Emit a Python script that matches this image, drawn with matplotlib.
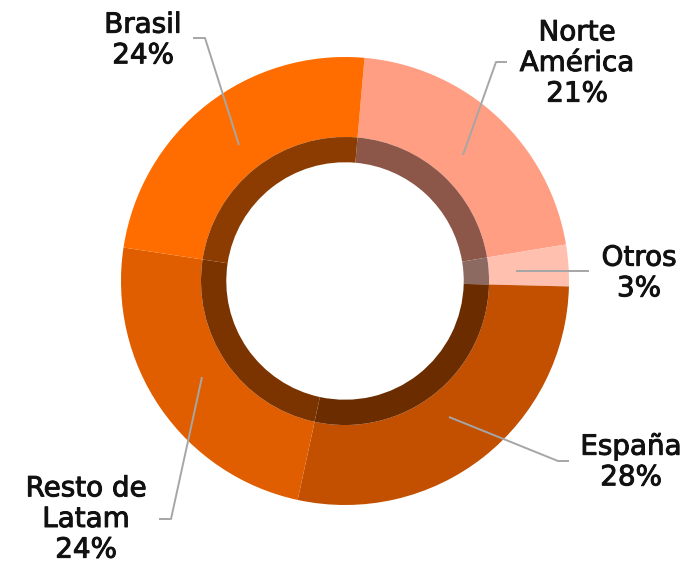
import numpy as np
import matplotlib
matplotlib.use("Agg")
import matplotlib.pyplot as plt
import matplotlib.patheffects as pe
from matplotlib.colors import to_rgb

# Share by region (clockwise from the top)
regions = ["Norte\nAmérica", "Otros", "España", "Resto de\nLatam", "Brasil"]
shares = [21, 3, 28, 24, 24]
colors = ["#FF9E82", "#FFC0B0", "#C25000", "#E05E00", "#FF6D00"]

# label text positions and leader lines, in picture pixels
label_xy = [(577, 63), (639, 273), (631, 462), (86, 519), (143, 40)]
leaders = [
    [(463, 155), (496, 62), (507, 62)],
    [(516, 271), (589, 271)],
    [(449, 417), (558, 461), (569, 461)],
    [(202, 377), (171, 519), (159, 519)],
    [(239, 145), (205, 38), (193, 38)],
]

CX, CY, R = 345, 281, 224


def px(x, y):
    return (x - CX) / R, (CY - y) / R


fig = plt.figure(figsize=(6.89, 5.64), dpi=100)
ax = fig.add_axes([0, 0, 1, 1])

# outer ring
ax.pie(shares, colors=colors, startangle=85, counterclock=False, radius=1.0,
       wedgeprops=dict(width=1.0 - 0.643, edgecolor="none", linewidth=0))

# darker inner band
dark = [tuple(c * 0.55 for c in to_rgb(col)) for col in colors]
ax.pie(shares, colors=dark, startangle=85, counterclock=False, radius=0.643,
       wedgeprops=dict(width=0.643 - 0.53, edgecolor="none", linewidth=0))

for name, val, (lx, ly), pts in zip(regions, shares, label_xy, leaders):
    xs, ys = zip(*[px(x, y) for x, y in pts])
    ax.plot(xs, ys, color="#A6A6A6", lw=1.4, solid_capstyle="butt")
    tx, ty = px(lx, ly)
    ax.text(tx, ty, f"{name}\n{val}%", ha="center", va="center",
            fontsize=20, color="#111111", linespacing=1.12,
            family="DejaVu Sans",
            path_effects=[pe.withStroke(linewidth=0.7, foreground="#111111")])

ax.set_xlim(-CX / R, (689 - CX) / R)
ax.set_ylim((CY - 564) / R, CY / R)
ax.set_aspect("auto")
ax.axis("off")

fig.savefig("out.png", dpi=100)
